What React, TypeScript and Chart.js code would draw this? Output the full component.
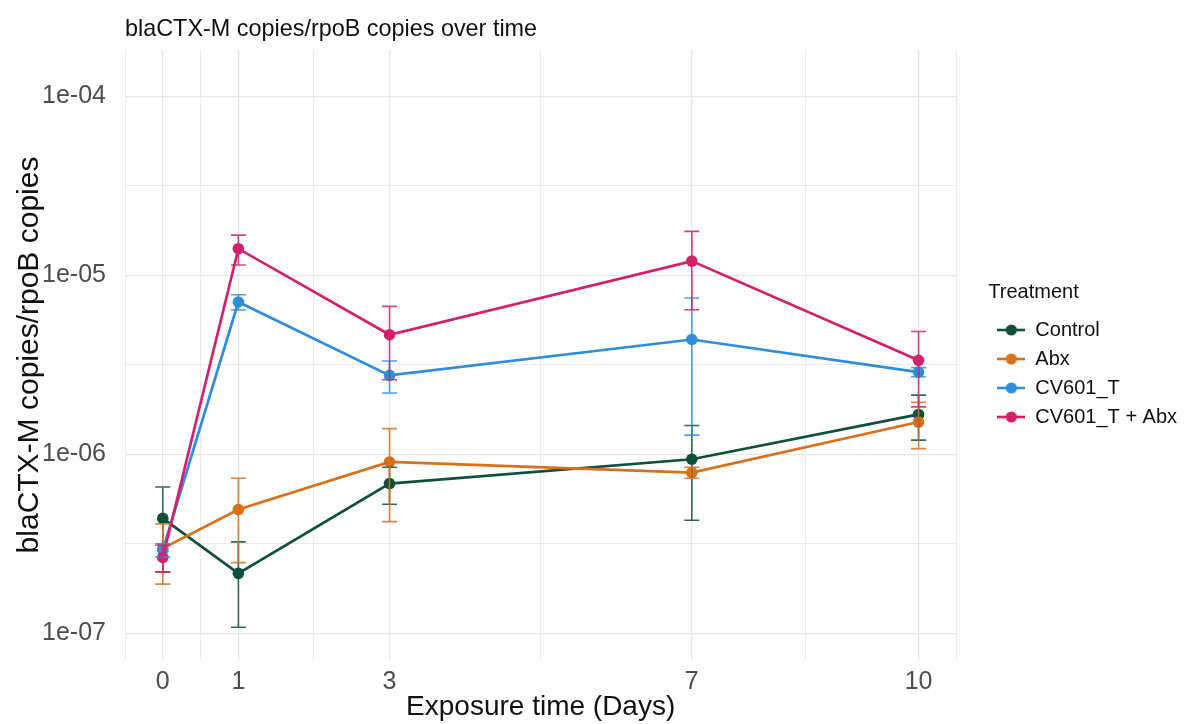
import React, { useEffect, useRef } from 'react';
import { Chart, registerables } from 'chart.js';

Chart.register(...registerables);

// ---------- data ----------
const days = [0, 1, 3, 7, 10];
const treatments = ['Control', 'Abx', 'CV601_T', 'CV601_T + Abx'];

const controlMean = [4.38e-7, 2.16e-7, 6.86e-7, 9.38e-7, 1.67e-6];
const controlSe = [2.18e-7, 1.08e-7, 1.6e-7, 5.1e-7, 4.7e-7];
const abxMean = [2.98e-7, 4.91e-7, 9.06e-7, 7.9e-7, 1.514e-6];
const abxSe = [1.1e-7, 2.43e-7, 4.86e-7, 0.56e-7, 4.38e-7];
const cvMean = [2.91e-7, 7.1e-6, 2.76e-6, 4.38e-6, 2.88e-6];
const cvSe = [0.25e-7, 0.7e-6, 0.56e-6, 3.1e-6, 0.17e-6];
const cvAbxMean = [2.65e-7, 1.41e-5, 4.66e-6, 1.202e-5, 3.35e-6];
const cvAbxSe = [0.45e-7, 2.68e-6, 2.05e-6, 5.6e-6, 1.51e-6];

const xMajorTicks = [0, 1, 3, 7, 10];
const xMinorTicks = [-0.5, 0.5, 2, 5, 8.5, 10.5];
const yMajorTicks = [1e-7, 1e-6, 1e-5, 1e-4];
const yTickLabels = ['1e-07', '1e-06', '1e-05', '1e-04'];
const yMinorTicks = [Math.pow(10, -6.5), Math.pow(10, -5.5), Math.pow(10, -4.5)];

const seriesColors = ['#0e4f3e', '#d8701c', '#2f8ddb', '#d4206a'];

const meanSeries = [controlMean, abxMean, cvMean, cvAbxMean];
const seSeries = [controlSe, abxSe, cvSe, cvAbxSe];

const FAMILY = '"Liberation Sans", Arial, Helvetica, sans-serif';

function isSame(a: number, b: number) {
  return Math.abs(Math.log10(a) - Math.log10(b)) < 1e-6;
}

const errorBarPlugin = {
  id: 'errorBars',
  afterDatasetsDraw(chart: any) {
    const { ctx } = chart;
    const x = chart.scales.x;
    const y = chart.scales.y;
    ctx.save();
    chart.data.datasets.forEach((ds: any, i: number) => {
      const mean = meanSeries[i];
      const se = seSeries[i];
      ctx.strokeStyle = ds.borderColor;
      ctx.globalAlpha = 0.85;
      ctx.lineWidth = 1.6;
      days.forEach((d, j) => {
        const px = x.getPixelForValue(d);
        const top = y.getPixelForValue(mean[j] + se[j]);
        const bot = y.getPixelForValue(mean[j] - se[j]);
        ctx.beginPath();
        ctx.moveTo(px, top);
        ctx.lineTo(px, bot);
        ctx.moveTo(px - 7.5, top);
        ctx.lineTo(px + 7.5, top);
        ctx.moveTo(px - 7.5, bot);
        ctx.lineTo(px + 7.5, bot);
        ctx.stroke();
      });
    });
    ctx.restore();
  },
};

function makeKey(color: string) {
  const c = document.createElement('canvas');
  c.width = 28;
  c.height = 14;
  const g = c.getContext('2d')!;
  g.strokeStyle = color;
  g.lineWidth = 2.6;
  g.beginPath();
  g.moveTo(0, 7);
  g.lineTo(28, 7);
  g.stroke();
  g.fillStyle = color;
  g.beginPath();
  g.arc(14, 7, 5.6, 0, Math.PI * 2);
  g.fill();
  return c;
}

export default function App() {
  const ref = useRef<HTMLCanvasElement>(null);

  useEffect(() => {
    if (!ref.current) return;
    const keys = seriesColors.map(makeKey);
    const datasets = treatments.map((name, i) => ({
      label: name,
      data: days.map((d, j) => ({ x: d, y: meanSeries[i][j] })),
      borderColor: seriesColors[i],
      backgroundColor: seriesColors[i],
      pointBackgroundColor: seriesColors[i],
      pointBorderColor: seriesColors[i],
      pointBorderWidth: 0,
      pointRadius: 5.8,
      borderWidth: 2.7,
      tension: 0,
      order: treatments.length - 1 - i,
      xAxisID: 'x',
      yAxisID: 'y',
    }));

    const gridColor = '#e6e6e6';
    const chart = new Chart(ref.current, {
      type: 'line',
      data: { datasets },
      plugins: [errorBarPlugin],
      options: {
        responsive: false,
        animation: false,
        devicePixelRatio: 1,
        layout: { padding: { left: 0, right: 2, top: 0, bottom: 0 } },
        plugins: {
          tooltip: { enabled: false },
          title: {
            display: true,
            text: 'blaCTX-M copies/rpoB copies over time',
            align: 'start',
            fullSize: false,
            color: '#111',
            font: { size: 23.4, weight: 'normal', family: FAMILY },
            padding: { top: 16, bottom: 5.9 },
          },
          legend: {
            position: 'right',
            align: 'center',
            fullSize: false,
            title: {
              display: true,
              text: 'Treatment',
              position: 'start',
              color: '#111',
              font: { size: 20, family: FAMILY },
              padding: { top: 8, bottom: 5 },
            },
            labels: {
              usePointStyle: true,
              pointStyleWidth: 28,
              padding: 9,
              color: '#111',
              font: { size: 20, family: FAMILY },
              generateLabels: (c: any) =>
                c.data.datasets.map((ds: any, i: number) => ({
                  text: ds.label,
                  fillStyle: ds.borderColor,
                  strokeStyle: ds.borderColor,
                  lineWidth: 0,
                  hidden: false,
                  datasetIndex: i,
                  pointStyle: keys[i],
                  fontColor: '#111',
                })),
            },
          },
        },
        scales: {
          x: {
            type: 'linear',
            position: 'bottom',
            min: -0.5,
            max: 10.5,
            afterBuildTicks: (s: any) => {
              s.ticks = [...xMinorTicks, ...xMajorTicks]
                .sort((a, b) => a - b)
                .map((v) => ({ value: v }));
            },
            afterFit: (s: any) => {
              s.height = 64;
            },
            ticks: {
              autoSkip: false,
              maxRotation: 0,
              padding: 7,
              color: '#4d4d4d',
              font: { size: 25, family: FAMILY },
              callback: (v: any) => (xMajorTicks.includes(Number(v)) ? String(v) : ''),
            },
            grid: {
              drawTicks: false,
              color: gridColor,
              lineWidth: (c: any) =>
                c.tick && xMajorTicks.includes(c.tick.value) ? 1.3 : 0.8,
            },
            border: { display: false },
            title: {
              display: true,
              text: 'Exposure time (Days)',
              color: '#111',
              font: { size: 28, family: FAMILY },
              padding: { top: 0, bottom: 0 },
            },
          },
          y: {
            type: 'logarithmic',
            position: 'left',
            min: Math.pow(10, -7.15),
            max: Math.pow(10, -3.74),
            afterBuildTicks: (s: any) => {
              s.ticks = [...yMajorTicks, ...yMinorTicks]
                .sort((a, b) => a - b)
                .map((v) => ({ value: v }));
            },
            afterFit: (s: any) => {
              s.width = 125;
            },
            ticks: {
              autoSkip: false,
              padding: 19,
              color: '#4d4d4d',
              font: { size: 25, family: FAMILY },
              callback: (v: any) => {
                const k = yMajorTicks.findIndex((m) => isSame(m, Number(v)));
                return k >= 0 ? yTickLabels[k] : '';
              },
            },
            grid: {
              drawTicks: false,
              color: gridColor,
              lineWidth: (c: any) =>
                c.tick && yMajorTicks.some((m) => isSame(m, c.tick.value)) ? 1.3 : 0.8,
            },
            border: { display: false },
            title: {
              display: true,
              text: 'blaCTX-M copies/rpoB copies',
              color: '#111',
              font: { size: 30, family: FAMILY },
              padding: { top: 12, bottom: 0 },
            },
          },
          yr: {
            type: 'linear',
            position: 'right',
            display: true,
            grid: { display: false },
            ticks: { display: false },
            border: { display: false },
            afterFit: (s: any) => {
              s.width = 32;
            },
          },
        },
      },
    } as any);
    return () => chart.destroy();
  }, []);

  return (
    <div style={{ position: 'fixed', left: 0, top: 0, width: 1188, height: 724, background: '#fff' }}>
      <canvas ref={ref} width={1188} height={724} style={{ display: 'block', width: 1188, height: 724 }} />
    </div>
  );
}
